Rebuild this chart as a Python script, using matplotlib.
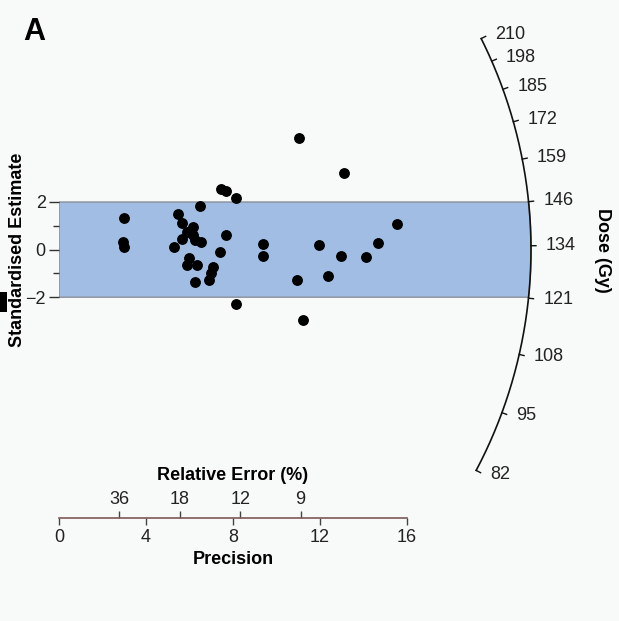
import numpy as np
import matplotlib
matplotlib.use('Agg')
import matplotlib.pyplot as plt
from matplotlib.patches import Polygon, Rectangle

plt.rcParams['font.family'] = ['Liberation Sans', 'DejaVu Sans']

# ---------------- data ----------------
precision = [3.01, 2.94, 3.01, 5.28, 5.48, 5.64, 5.64, 5.89, 6.17, 6.17,
             6.25, 6.51, 6.48, 5.99, 5.87, 6.33, 6.23, 7.07, 7.00, 6.91,
             7.41, 7.68, 7.45, 7.68, 8.14, 8.14, 9.40, 9.36, 11.04, 10.93,
             11.20, 11.97, 12.38, 12.95, 13.10, 14.11, 14.68, 15.55]
std_est = [1.32, 0.33, 0.13, 0.13, 1.51, 1.12, 0.43, 0.74, 0.95, 0.61,
           0.42, 0.33, 1.83, -0.37, -0.65, -0.65, -1.38, -0.73, -0.98, -1.26,
           -0.10, 0.62, 2.53, 2.46, 2.16, -2.29, 0.24, -0.27, 4.68, -1.28,
           -2.96, 0.18, -1.11, -0.28, 3.23, -0.32, 0.26, 1.08]

prec_ticks = [0, 4, 8, 12, 16]
relerr_ticks = [36, 18, 12, 9]
std_ticks = [-2, 0, 2]
std_minor = [-1, 1]
dose_ticks = [82, 95, 108, 121, 134, 146, 159, 172, 185, 198, 210]
central_dose = 133.0
band_half = 2

# ---------------- layout ----------------
W, H, DPI = 619, 621, 100
fig = plt.figure(figsize=(W / DPI, H / DPI), dpi=DPI)
bg = '#f8f9f9'
fig.patch.set_facecolor(bg)

x0_px, z0_px = 59.0, 249.6   # origin (pixels from top-left)
sx, sz = 21.75, 23.8         # pixels per data unit
R_px = 472.0                 # arc radius in pixels

ax = fig.add_axes([x0_px / W, 0, (W - x0_px) / W, 1])
ax.set_xlim(0, (W - x0_px) / sx)
ax.set_ylim(-(H - z0_px) / sz, z0_px / sz)
ax.patch.set_visible(False)
for s in ax.spines.values():
    s.set_visible(False)
ax.set_xticks([])
ax.set_yticks(std_ticks)
ax.set_yticks(std_minor, minor=True)
ax.tick_params(axis='y', which='major', length=7, width=1, color='#333333',
               pad=2.5, labelsize=13, labelcolor='#222222')
ax.tick_params(axis='y', which='minor', length=4, width=1, color='#333333')

def arc_xy(theta, r=R_px):
    return r * np.cos(theta) / sx, r * np.sin(theta) / sz

# band
th2 = np.arcsin(band_half * sz / R_px)
th = np.linspace(th2, -th2, 100)
ax_, az_ = arc_xy(th)
poly = np.vstack([[[0, -band_half], [0, band_half]], np.column_stack([ax_, az_])])
ax.add_patch(Polygon(poly, closed=True, facecolor='#a2bde3', edgecolor='#8a8f99',
                     linewidth=1.0, zorder=1))

# arc with dose ticks
def dose_theta(d):
    s = np.log(d / central_dose)
    return np.arctan(s * sz / sx)

thetas = [dose_theta(d) for d in dose_ticks]
tt = np.linspace(min(thetas), max(thetas), 300)
axx, azz = arc_xy(tt)
ax.plot(axx, azz, color='#111111', lw=1.2, zorder=3, clip_on=False)
for d, t in zip(dose_ticks, thetas):
    xa, za = arc_xy(t)
    xb, zb = arc_xy(t, R_px + 5)
    ax.plot([xa, xb], [za, zb], color='#111111', lw=1.0, zorder=3, clip_on=False)
    xl, zl = arc_xy(t, R_px + 9)
    ax.text(xl + 6 / sx, zl, str(d), ha='left', va='center', fontsize=13,
            color='#222222')

# points
ax.plot(precision, std_est, 'o', color='black', markersize=6.8, zorder=5,
        linestyle='none')

# y label
ax.set_ylabel('Standardised Estimate', fontsize=13, fontweight='bold')
ax.yaxis.set_label_coords(18 / W, (H - 250) / H, transform=fig.transFigure)
ax.yaxis.label.set_va('center')

# ---------------- precision axis ----------------
axis_px = 518.3
axp = fig.add_axes([x0_px / W, (H - axis_px) / H, (W - x0_px) / W, 1e-4])
axp.set_xlim(ax.get_xlim())
axp.patch.set_visible(False)
for k in ['left', 'right', 'top']:
    axp.spines[k].set_visible(False)
axp.spines['bottom'].set_bounds(0, 16)
axp.spines['bottom'].set_color('#7d5a55')
axp.spines['bottom'].set_linewidth(1.2)
axp.set_yticks([])
axp.set_xticks(prec_ticks)
axp.tick_params(axis='x', direction='out', length=5, width=1, color='#444444',
                labelsize=13, labelcolor='#222222', pad=2.5)

def inv(v):
    v = np.asarray(v, dtype=float)
    return 100.0 / np.where(np.abs(v) < 1e-9, 1e-9, v)

sec = axp.secondary_xaxis('top', functions=(inv, inv))
sec.set_xticks(relerr_ticks)
sec.spines['top'].set_visible(False)
sec.tick_params(axis='x', direction='out', length=5, width=1, color='#444444',
                labelsize=13, labelcolor='#222222', pad=2.5)
sec.set_xlabel('Relative Error (%)', fontsize=13, fontweight='bold')
sec.xaxis.set_label_coords(233 / W, (H - 475) / H, transform=fig.transFigure)
sec.xaxis.label.set_va('center')

axp.set_xlabel('Precision', fontsize=13, fontweight='bold')
axp.xaxis.set_label_coords(233 / W, (H - 559) / H, transform=fig.transFigure)
axp.xaxis.label.set_va('center')

# other texts
fig.text(603 / W, (H - 250) / H, 'Dose (Gy)', rotation=-90, ha='center',
         va='center', fontsize=13, fontweight='bold')
fig.text(34 / W, (H - 32) / H, 'A', fontsize=22, fontweight='bold',
         ha='center', va='center')

fig.patches.append(Rectangle((0, (H - 312) / H), 7 / W, 20 / H,
                             transform=fig.transFigure, facecolor='black',
                             edgecolor='none'))

fig.savefig('out.png', dpi=DPI, facecolor=bg)
